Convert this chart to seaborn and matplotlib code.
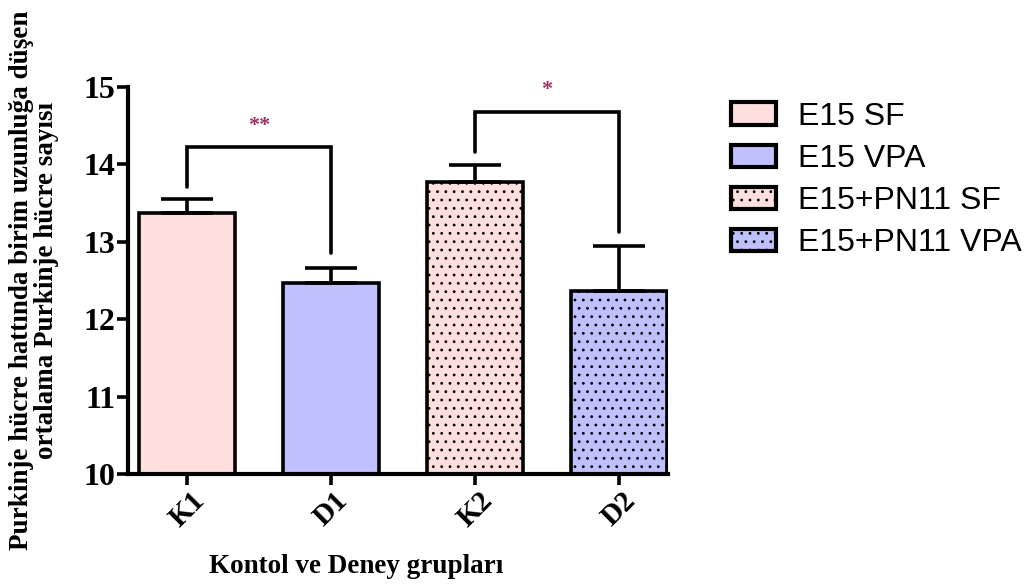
import numpy as np
import pandas as pd
import matplotlib
matplotlib.use("Agg")
import matplotlib.pyplot as plt
import seaborn as sns
from matplotlib.patches import Patch

# data
groups = ["K1", "D1", "K2", "D2"]
means = [13.37, 12.47, 13.77, 12.37]
sems = [0.18, 0.19, 0.22, 0.58]
legend_names = ["E15 SF", "E15 VPA", "E15+PN11 SF", "E15+PN11 VPA"]
colors = ["#FFDEDE", "#C0C0FF", "#FFDEDE", "#C0C0FF"]
hatches = ["", "", "..", ".."]
# significance brackets: (left, right, top, left leg end, right leg end, label)
brackets = [(0, 1, 14.22, 13.71, 12.86, "**"), (2, 3, 14.68, 14.16, 13.13, "*")]

sns.set_style("ticks")
plt.rcParams["hatch.linewidth"] = 0.8
for k in ["text.color", "axes.labelcolor", "xtick.color", "ytick.color"]:
    plt.rcParams[k] = "black"
serif = ["Liberation Serif", "DejaVu Serif"]

df = pd.DataFrame({"grup": groups, "deger": means})

fig = plt.figure(figsize=(10.26, 5.84), dpi=100)
ax = fig.add_axes([0.1248, 0.188, 0.526, 0.663])

sns.barplot(data=df, x="grup", y="deger", hue="grup", palette=colors,
            width=0.67, edgecolor="black", linewidth=2.6, legend=False,
            saturation=1, ax=ax)
for bar, h in zip(ax.patches, hatches):
    bar.set_hatch(h)

ax.errorbar(range(len(groups)), means, yerr=[np.zeros(len(sems)), sems],
            fmt="none", ecolor="black", elinewidth=2.6, capsize=18.5,
            capthick=2.6, zorder=1)

for l, r, top, ly, ry, lab in brackets:
    ax.plot([l, l, r, r], [ly, top, top, ry], color="black", lw=2.6,
            solid_joinstyle="miter")
    ax.text((l + r) / 2, top + 0.15, lab, ha="center", va="bottom",
            color="#993366", fontsize=16, fontweight="bold", family=serif)

ax.set_ylim(10, 15)
ax.set_xlim(-0.41, 3.34)
ax.set_yticks([10, 11, 12, 13, 14, 15])
ax.set_yticklabels(["10", "11", "12", "13", "14", "15"], fontsize=23,
                   fontweight="bold", family=serif)
ax.set_xticks(range(len(groups)))
ax.set_xticklabels(groups, rotation=45, fontsize=21, fontweight="bold",
                   family=serif)
ax.tick_params(axis="both", width=2.6, length=8, color="black", pad=1)
for s in ["left", "bottom"]:
    ax.spines[s].set_linewidth(3)
    ax.spines[s].set_color("black")
sns.despine(ax=ax)

ax.set_xlabel("Kontol ve Deney grupları", fontsize=19.5, fontweight="bold",
              family=serif, labelpad=4)
ax.xaxis.set_label_coords(0.422, -0.205)
ax.set_ylabel("Purkinje hücre hattında birim uzunluğa düşen\nortalama Purkinje hücre sayısı",
              fontsize=19.5, fontweight="bold", family=serif, labelpad=18,
              linespacing=1.0)

handles = [Patch(facecolor=c, edgecolor="black", hatch=h, linewidth=3)
           for c, h in zip(colors, hatches)]
fig.legend(handles, legend_names, loc="upper left", bbox_to_anchor=(0.697, 0.853),
           frameon=False, prop={"family": ["Liberation Sans"], "size": 23},
           handlelength=1.4, handleheight=0.7, labelspacing=0.38,
           handletextpad=0.7, borderpad=0)

fig.savefig("out.png", dpi=100)
